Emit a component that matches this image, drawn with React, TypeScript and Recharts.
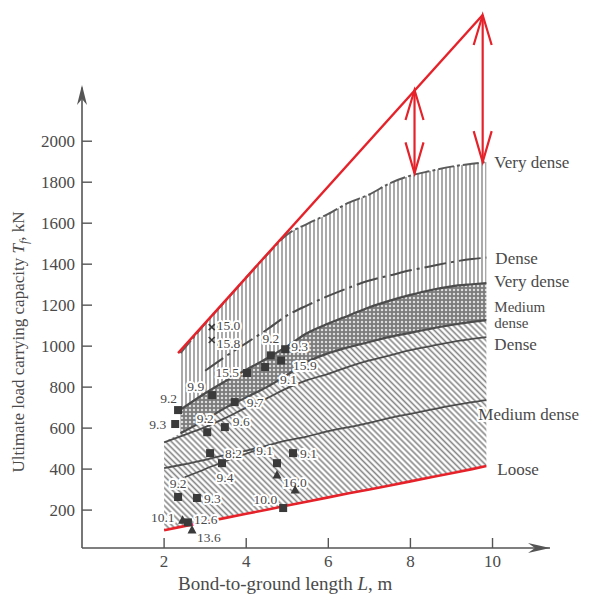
import React from "react";
import { Area, ComposedChart, Line, ReferenceDot, ReferenceLine, Scatter, XAxis, YAxis } from "recharts";

const FONT = '"Liberation Serif", "DejaVu Serif", serif';
const INK = "#4a4a4a";
const AXIS = "#555";
const CURVE = "#4c4c4c";
const RED = "#e5222a";

// bond length grid (m) for the band boundaries
const bondLength = [2.4, 3, 3.5, 4, 4.5, 5, 5.5, 6, 6.5, 7, 7.5, 8, 8.5, 9, 9.5, 9.85];
const veryDenseUpper = [966, 1110, 1222, 1335, 1445, 1545, 1598, 1645, 1700, 1740, 1795, 1832, 1855, 1876, 1890, 1898];
const denseUpper = [null, 880, 950, 1015, 1080, 1150, 1200, 1245, 1285, 1320, 1345, 1370, 1390, 1410, 1425, 1432];
const veryDenseMid = [690, 770, 830, 885, 940, 1000, 1065, 1110, 1150, 1190, 1222, 1250, 1274, 1292, 1302, 1308];
const mediumDenseMid = [575, 640, 700, 750, 800, 860, 925, 965, 995, 1020, 1045, 1065, 1085, 1103, 1118, 1127];

// lower band starts a little further left
const lowerLength = [2.0, ...bondLength];
const lowerTop = [535, ...mediumDenseMid];
const denseLower = [530, 560, 605, 650, 700, 745, 795, 835, 865, 900, 930, 955, 980, 1000, 1020, 1035, 1044];
const mediumDenseLower = [405, 420, 445, 470, 490, 515, 540, 560, 585, 605, 625, 650, 670, 690, 710, 727, 737];
const loose = [102, 118, 142, 162, 182, 202, 222, 242, 262, 282, 300, 320, 340, 360, 380, 400, 415];

const branchLength = [2.5, 3, 3.5, 4, 4.4];
const branchLoad = [360, 400, 440, 475, 505];

// red envelope and the two gap arrows
const envelopeLength = [2.34, 9.76];
const envelopeLoad = [966, 2616];
const arrowLength = [8.1, 9.76];
const arrowTop = [2250, 2616];
const arrowBottom = [1843, 1898];

// test results (load in kN), labelled with N values
const pointLength = [3.16, 3.16, 4.6, 4.95, 4.85, 4.46, 4.02, 3.17, 2.34, 2.27, 3.05, 3.48, 3.72, 3.12, 3.41, 4.75, 5.14, 4.75, 5.19, 2.34, 2.8, 4.9, 2.45, 2.58, 2.68];
const pointLoad = [1093, 1030, 955, 985, 930, 898, 869, 761, 688, 620, 580, 605, 727, 478, 429, 429, 478, 371, 298, 264, 259, 210, 150, 140, 103];
const pointLabel = ["15.0", "15.8", "9.2", "9.3", "15.9", "9.1", "15.5", "9.9", "9.2", "9.3", "9.2", "9.6", "9.7", "8.2", "9.4", "9.1", "9.1", "16.0", "", "9.2", "9.3", "10.0", "10.1", "12.6", "13.6"];
const pointMarker = ["cross", "cross", "square", "square", "square", "square", "square", "square", "square", "square", "square", "square", "square", "square", "square", "square", "square", "triangle", "triangle", "square", "square", "square", "triangle", "square", "triangle"];
// label offset from marker: [dx, dy, anchor]
const labelPlacement: [number, number, string][] = [
  [5, 3, "start"], [5, 8, "start"], [0, -12, "middle"], [6, 2, "start"], [12, 10, "start"],
  [15, 17, "start"], [-8, 4, "end"], [-8, -4, "end"], [-1, -7, "end"], [-9, 5, "end"],
  [-2, -9, "middle"], [8, -1, "start"], [12, 5, "start"], [15, 5, "start"], [3, 19, "middle"],
  [-4, -8, "end"], [7, 5, "start"], [6, 12, "start"], [0, 0, "start"], [0, -9, "middle"],
  [7, 5, "start"], [-6, -4, "end"], [-8, 2, "end"], [6, 2, "start"], [5, 12, "start"],
];

const tickLength = [2, 4, 6, 8, 10];
const tickLoad = [200, 400, 600, 800, 1000, 1200, 1400, 1600, 1800, 2000];

const upperBand = bondLength.map((x, i) => ({ x, band: [veryDenseMid[i], veryDenseUpper[i]] }));
const middleBand = bondLength.map((x, i) => ({ x, band: [mediumDenseMid[i], veryDenseMid[i]] }));
const lowerBand = lowerLength.map((x, i) => ({ x, band: [loose[i], lowerTop[i]] }));
const series = (xs: number[], ys: (number | null)[]) => xs.map((x, i) => ({ x, y: ys[i] }));
const points = pointLength.map((x, i) => ({ x, y: pointLoad[i], idx: i }));

const halo = { stroke: "#fff", strokeWidth: 4, paintOrder: "stroke" as const, strokeLinejoin: "round" as const };

function LoadTick({ x, y, payload }: any) {
  return (
    <g>
      <line x1={x} x2={x + 10} y1={y} y2={y} stroke={AXIS} strokeWidth={1.4} />
      <text x={x - 7} y={y + 6} textAnchor="end" fontFamily={FONT} fontSize={17} fill={INK}>
        {payload.value}
      </text>
    </g>
  );
}

function LengthTick({ x, y, payload }: any) {
  return (
    <g>
      <line x1={x} x2={x} y1={y} y2={y - 10} stroke={AXIS} strokeWidth={1.4} />
      <text x={x} y={y + 19} textAnchor="middle" fontFamily={FONT} fontSize={17} fill={INK}>
        {payload.value}
      </text>
    </g>
  );
}

function TestPoint({ cx, cy, payload }: any) {
  const i = payload.idx;
  const [dx, dy, anchor] = labelPlacement[i];
  let mark;
  if (pointMarker[i] === "cross") {
    mark = <path d={`M${cx - 3} ${cy - 3}L${cx + 3} ${cy + 3}M${cx + 3} ${cy - 3}L${cx - 3} ${cy + 3}`} stroke="#3a3a3a" strokeWidth={1.6} />;
  } else if (pointMarker[i] === "triangle") {
    mark = <polygon points={`${cx},${cy - 5} ${cx - 4.5},${cy + 3.5} ${cx + 4.5},${cy + 3.5}`} fill="#3a3a3a" />;
  } else {
    mark = <rect x={cx - 4} y={cy - 4} width={8} height={8} fill="#3a3a3a" />;
  }
  return (
    <g>
      {pointLabel[i] && (
        <text x={cx + dx} y={cy + dy} textAnchor={anchor as any} fontFamily={FONT} fontSize={13.5} fill={INK} {...halo}>
          {pointLabel[i]}
        </text>
      )}
      {mark}
    </g>
  );
}

const arrowUp = ({ cx, cy }: any) => (
  <path d={`M${cx - 9} ${cy + 30}L${cx} ${cy}L${cx + 9} ${cy + 30}`} fill="none" stroke={RED} strokeWidth={2.2} />
);
const arrowDown = ({ cx, cy }: any) => (
  <path d={`M${cx - 9} ${cy - 31}L${cx} ${cy}L${cx + 9} ${cy - 31}`} fill="none" stroke={RED} strokeWidth={2.2} />
);

const curveLabel = (lines: string[], dx: number, dy: number, size = 17, bg = false) => ({ cx, cy }: any) => (
  <text x={cx + dx} y={cy + dy} fontFamily={FONT} fontSize={size} fill={INK} {...(bg ? halo : {})}>
    {lines.map((t, k) => (
      <tspan key={k} x={cx + dx} dy={k === 0 ? 0 : 16}>
        {t}
      </tspan>
    ))}
  </text>
);

const last = (a: any[]) => a[a.length - 1];

export default function App() {
  return (
    <div style={{ position: "absolute", left: 0, top: 0, background: "#fff" }}>
      <ComposedChart width={592} height={594} margin={{ top: 8, right: 42, bottom: 0, left: 0 }}>
        <defs>
          <pattern id="vhatch" width="4" height="4" patternUnits="userSpaceOnUse">
            <rect width="4" height="4" fill="#fff" />
            <line x1="2" y1="0" x2="2" y2="4" stroke="#858585" strokeWidth="1.4" />
          </pattern>
          <pattern id="dots" width="4" height="4" patternUnits="userSpaceOnUse">
            <rect width="4" height="4" fill="#7c7c7c" />
            <circle cx="2" cy="2" r="1.25" fill="#dedede" />
          </pattern>
          <pattern id="diag" width="4.2" height="4.2" patternUnits="userSpaceOnUse" patternTransform="rotate(-45)">
            <rect width="4.2" height="4.2" fill="#fff" />
            <line x1="2.1" y1="0" x2="2.1" y2="4.2" stroke="#858585" strokeWidth="1.6" />
          </pattern>
        </defs>

        <XAxis
          type="number"
          dataKey="x"
          domain={[0, 11.4]}
          ticks={tickLength}
          interval={0}
          tick={<LengthTick />}
          tickLine={false}
          tickSize={0}
          tickMargin={0}
          axisLine={{ stroke: AXIS, strokeWidth: 1.6 }}
          height={46}
        />
        <YAxis
          type="number"
          dataKey="y"
          domain={[15, 2650]}
          ticks={tickLoad}
          interval={0}
          tick={<LoadTick />}
          tickLine={false}
          tickSize={0}
          tickMargin={0}
          axisLine={false}
          width={82}
        />

        <ReferenceLine segment={[{ x: 0, y: 15 }, { x: 0, y: 2262 }]} stroke={AXIS} strokeWidth={1.6} />
        <ReferenceDot
          x={0}
          y={2274}
          shape={({ cx, cy }: any) => <path d={`M${cx} ${cy}L${cx + 5} ${cy + 20}L${cx} ${cy + 14}L${cx - 5} ${cy + 20}Z`} fill={AXIS} />}
        />
        <ReferenceDot
          x={11.4}
          y={15}
          shape={({ cx, cy }: any) => <path d={`M${cx} ${cy}L${cx - 22} ${cy - 5}L${cx - 15} ${cy}L${cx - 22} ${cy + 5}Z`} fill={AXIS} />}
        />

        <Area data={lowerBand} dataKey="band" type="monotone" fill="url(#diag)" fillOpacity={1} stroke="none" isAnimationActive={false} />
        <Area data={upperBand} dataKey="band" type="monotone" fill="url(#vhatch)" fillOpacity={1} stroke="none" isAnimationActive={false} />
        <Area data={middleBand} dataKey="band" type="monotone" fill="url(#dots)" fillOpacity={1} stroke="none" isAnimationActive={false} />

        <Line data={series(bondLength, veryDenseUpper)} dataKey="y" type="monotone" stroke="#5a5a5a" strokeWidth={2} strokeDasharray="16 3 3 3" dot={false} isAnimationActive={false} />
        <Line data={series(bondLength, denseUpper)} dataKey="y" type="monotone" stroke={CURVE} strokeWidth={2} strokeDasharray="22 5 3 5" dot={false} isAnimationActive={false} />
        <Line data={series(bondLength, veryDenseMid)} dataKey="y" type="monotone" stroke={CURVE} strokeWidth={2.2} dot={false} isAnimationActive={false} />
        <Line data={series(bondLength, mediumDenseMid)} dataKey="y" type="monotone" stroke={CURVE} strokeWidth={2.2} dot={false} isAnimationActive={false} />
        <Line data={series(lowerLength, denseLower)} dataKey="y" type="monotone" stroke={CURVE} strokeWidth={1.8} dot={false} isAnimationActive={false} />
        <Line data={series(lowerLength, mediumDenseLower)} dataKey="y" type="monotone" stroke={CURVE} strokeWidth={1.8} dot={false} isAnimationActive={false} />
        <Line data={series(branchLength, branchLoad)} dataKey="y" type="monotone" stroke={CURVE} strokeWidth={1.6} dot={false} isAnimationActive={false} />

        <Scatter data={points} dataKey="y" shape={<TestPoint />} isAnimationActive={false} />

        <Line data={series(lowerLength, loose)} dataKey="y" type="linear" stroke={RED} strokeWidth={2.6} dot={false} isAnimationActive={false} />
        <Line data={series(envelopeLength, envelopeLoad)} dataKey="y" type="linear" stroke={RED} strokeWidth={2.4} dot={false} isAnimationActive={false} />
        {arrowLength.map((x, i) => (
          <Line
            key={`shaft${i}`}
            data={[{ x, y: arrowTop[i] }, { x, y: arrowBottom[i] }]}
            dataKey="y"
            type="linear"
            stroke={RED}
            strokeWidth={2.2}
            dot={false}
            isAnimationActive={false}
          />
        ))}
        <Scatter data={series(arrowLength, arrowTop)} dataKey="y" shape={arrowUp} isAnimationActive={false} />
        <Scatter data={series(arrowLength, arrowBottom)} dataKey="y" shape={arrowDown} isAnimationActive={false} />

        <ReferenceDot x={last(bondLength)} y={last(veryDenseUpper)} shape={curveLabel(["Very dense"], 8, 6)} />
        <ReferenceDot x={last(bondLength)} y={last(denseUpper)} shape={curveLabel(["Dense"], 9, 6)} />
        <ReferenceDot x={last(bondLength)} y={last(veryDenseMid)} shape={curveLabel(["Very dense"], 8, 4)} />
        <ReferenceDot x={last(bondLength)} y={last(mediumDenseMid)} shape={curveLabel(["Medium", "dense"], 8, -8, 15)} />
        <ReferenceDot x={last(lowerLength)} y={last(denseLower)} shape={curveLabel(["Dense"], 8, 13)} />
        <ReferenceDot x={last(lowerLength)} y={last(mediumDenseLower)} shape={curveLabel(["Medium dense"], -8, 20, 17, true)} />
        <ReferenceDot x={last(lowerLength)} y={last(loose)} shape={curveLabel(["Loose"], 11, 9)} />

        <text transform="translate(24 342) rotate(-90)" textAnchor="middle" fontFamily={FONT} fontSize={17} fill={INK}>
          Ultimate load carrying capacity <tspan fontStyle="italic">T</tspan>
          <tspan fontStyle="italic" fontSize={12} dy={4}>f</tspan>
          <tspan dy={-4}>, kN</tspan>
        </text>
        <text x={178} y={590} fontFamily={FONT} fontSize={19} fill={INK}>
          Bond-to-ground length <tspan fontStyle="italic">L</tspan>, m
        </text>
      </ComposedChart>
    </div>
  );
}
